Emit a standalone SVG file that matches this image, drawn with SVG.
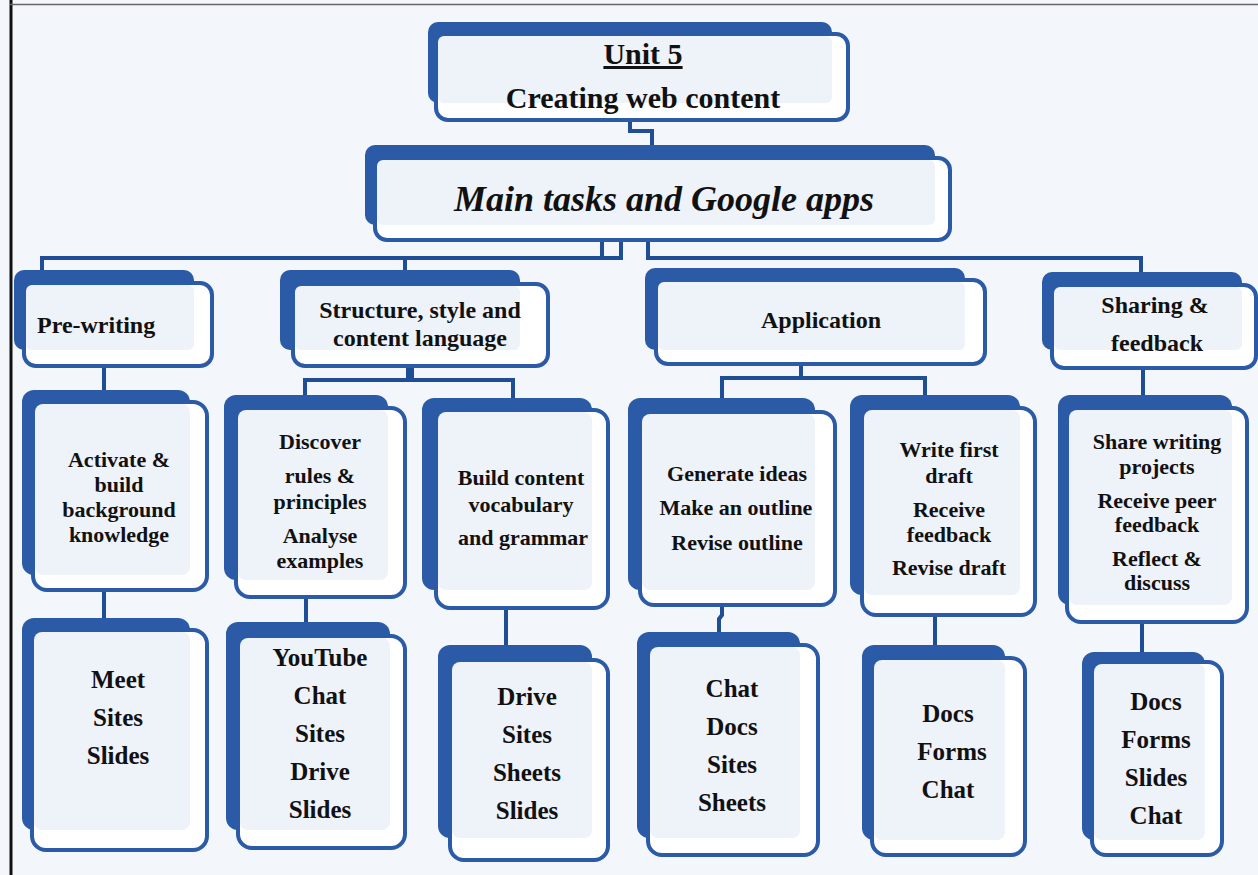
<svg xmlns="http://www.w3.org/2000/svg" width="1258" height="875" viewBox="0 0 1258 875">
<style>
.back{fill:#2b5aa7}
.front{fill:#ffffff;stroke:#2b5aa7;stroke-width:4}
.inner{fill:#eef2f9}
.t{font-family:"Liberation Serif","Times New Roman",serif;font-weight:bold;fill:#111;text-anchor:middle}
.h2{font-size:24px}
.h3{font-size:22px}
.h4{font-size:25px}
.con{fill:none;stroke:#1f4d96;stroke-width:4}
</style>
<rect x="0" y="0" width="1258" height="875" fill="#f3f7fc"/>
<line x1="11" y1="0" x2="11" y2="875" stroke="#111" stroke-width="3"/>
<line x1="10" y1="4.5" x2="1258" y2="4.5" stroke="#666" stroke-width="1.5"/>

<g id="connectors">
<path class="con" d="M630,120 V131 H652 V145"/>
<path class="con" d="M602,240 V258 M621,240 V258 M40,258 H623 M648,240 V258 H1141 V274 M42,256 V272 M405,258 V272"/>
<path class="con" d="M104,366 V392"/>
<path class="con" d="M408,366 V380 M412,366 V380 M305,398 V380 H513 V400"/>
<path class="con" d="M801,364 V378 M722,400 V378 H925 V397"/>
<path class="con" d="M1143,368 V397"/>
<path class="con" d="M104,590 V620 M306,597 V624 M506,608 V647 M722,605 V615 L719,619 V634 M935,615 V647 M1142,622 V654"/>
</g>

<g id="n-unit5">
<rect class="back" x="428" y="22" width="404" height="81" rx="10"/>
<rect class="front" x="436" y="34" width="412" height="86" rx="12"/>
<rect class="inner" x="438" y="36" width="394" height="67" rx="6"/>
<text class="t" x="643" y="64" font-size="30" text-decoration="underline">Unit 5</text>
<text class="t" x="643" y="108" font-size="30">Creating web content</text>
</g>

<g id="n-main">
<rect class="back" x="365" y="145" width="570" height="80" rx="10"/>
<rect class="front" x="375" y="158" width="575" height="82" rx="12"/>
<rect class="inner" x="377" y="160" width="558" height="65" rx="6"/>
<text class="t" x="664" y="211" font-size="36" font-style="italic">Main tasks and Google apps</text>
</g>

<g id="n-prewriting">
<rect class="back" x="14" y="270" width="180" height="80" rx="10"/>
<rect class="front" x="24" y="283" width="188" height="83" rx="12"/>
<rect class="inner" x="26" y="285" width="168" height="65" rx="6"/>
<text class="t h2" x="37" y="333" style="text-anchor:start">Pre-writing</text>
</g>

<g id="n-structure">
<rect class="back" x="280" y="270" width="240" height="80" rx="10"/>
<rect class="front" x="293" y="284" width="255" height="82" rx="12"/>
<rect class="inner" x="295" y="286" width="225" height="64" rx="6"/>
<text class="t h2" x="420" y="318">Structure, style and</text>
<text class="t h2" x="420" y="346">content language</text>
</g>

<g id="n-application">
<rect class="back" x="645" y="268" width="320" height="82" rx="10"/>
<rect class="front" x="656" y="280" width="329" height="84" rx="12"/>
<rect class="inner" x="658" y="282" width="307" height="68" rx="6"/>
<text class="t h2" x="821" y="328">Application</text>
</g>

<g id="n-sharing">
<rect class="back" x="1042" y="272" width="200" height="78" rx="10"/>
<rect class="front" x="1052" y="285" width="204" height="83" rx="12"/>
<rect class="inner" x="1054" y="287" width="188" height="63" rx="6"/>
<text class="t h2" x="1155" y="313">Sharing &amp;</text>
<text class="t h2" x="1157" y="351">feedback</text>
</g>

<g id="n-activate">
<rect class="back" x="22" y="390" width="168" height="185" rx="12"/>
<rect class="front" x="33" y="402" width="174" height="188" rx="14"/>
<rect class="inner" x="35" y="404" width="155" height="171" rx="8"/>
<text class="t h3" x="119" y="467">Activate &amp;</text>
<text class="t h3" x="119" y="492">build</text>
<text class="t h3" x="119" y="517">background</text>
<text class="t h3" x="119" y="542">knowledge</text>
</g>

<g id="n-discover">
<rect class="back" x="224" y="395" width="164" height="185" rx="12"/>
<rect class="front" x="236" y="408" width="169" height="189" rx="14"/>
<rect class="inner" x="238" y="410" width="150" height="170" rx="8"/>
<text class="t h3" x="320" y="449">Discover</text>
<text class="t h3" x="320" y="483">rules &amp;</text>
<text class="t h3" x="320" y="509">principles</text>
<text class="t h3" x="320" y="543">Analyse</text>
<text class="t h3" x="320" y="568">examples</text>
</g>

<g id="n-build">
<rect class="back" x="422" y="398" width="170" height="192" rx="12"/>
<rect class="front" x="436" y="410" width="172" height="198" rx="14"/>
<rect class="inner" x="438" y="412" width="154" height="178" rx="8"/>
<text class="t h3" x="521" y="485">Build content</text>
<text class="t h3" x="521" y="512">vocabulary</text>
<text class="t h3" x="523" y="545">and grammar</text>
</g>

<g id="n-generate">
<rect class="back" x="628" y="398" width="187" height="192" rx="12"/>
<rect class="front" x="640" y="412" width="195" height="193" rx="14"/>
<rect class="inner" x="642" y="414" width="173" height="176" rx="8"/>
<text class="t h3" x="737" y="481">Generate ideas</text>
<text class="t h3" x="736" y="515">Make an outline</text>
<text class="t h3" x="737" y="550">Revise outline</text>
</g>

<g id="n-write">
<rect class="back" x="850" y="395" width="170" height="200" rx="12"/>
<rect class="front" x="862" y="408" width="173" height="207" rx="14"/>
<rect class="inner" x="864" y="410" width="156" height="185" rx="8"/>
<text class="t h3" x="949" y="457">Write first</text>
<text class="t h3" x="949" y="483">draft</text>
<text class="t h3" x="949" y="517">Receive</text>
<text class="t h3" x="949" y="542">feedback</text>
<text class="t h3" x="949" y="575">Revise draft</text>
</g>

<g id="n-share">
<rect class="back" x="1058" y="395" width="174" height="210" rx="12"/>
<rect class="front" x="1067" y="408" width="180" height="214" rx="14"/>
<rect class="inner" x="1069" y="410" width="163" height="195" rx="8"/>
<text class="t h3" x="1157" y="449">Share writing</text>
<text class="t h3" x="1157" y="474">projects</text>
<text class="t h3" x="1157" y="508">Receive peer</text>
<text class="t h3" x="1157" y="532">feedback</text>
<text class="t h3" x="1157" y="566">Reflect &amp;</text>
<text class="t h3" x="1157" y="590">discuss</text>
</g>

<g id="n-meet">
<rect class="back" x="22" y="618" width="168" height="212" rx="12"/>
<rect class="front" x="32" y="630" width="175" height="220" rx="14"/>
<rect class="inner" x="34" y="632" width="156" height="198" rx="8"/>
<text class="t h4" x="118" y="688">Meet</text>
<text class="t h4" x="118" y="726">Sites</text>
<text class="t h4" x="118" y="764">Slides</text>
</g>

<g id="n-youtube">
<rect class="back" x="226" y="622" width="164" height="208" rx="12"/>
<rect class="front" x="238" y="636" width="167" height="212" rx="14"/>
<rect class="inner" x="240" y="638" width="150" height="192" rx="8"/>
<text class="t h4" x="320" y="666">YouTube</text>
<text class="t h4" x="320" y="704">Chat</text>
<text class="t h4" x="320" y="742">Sites</text>
<text class="t h4" x="320" y="780">Drive</text>
<text class="t h4" x="320" y="818">Slides</text>
</g>

<g id="n-drive">
<rect class="back" x="438" y="645" width="154" height="193" rx="12"/>
<rect class="front" x="450" y="660" width="158" height="200" rx="14"/>
<rect class="inner" x="452" y="662" width="140" height="176" rx="8"/>
<text class="t h4" x="527" y="705">Drive</text>
<text class="t h4" x="527" y="743">Sites</text>
<text class="t h4" x="527" y="781">Sheets</text>
<text class="t h4" x="527" y="819">Slides</text>
</g>

<g id="n-chatdocs">
<rect class="back" x="637" y="632" width="163" height="206" rx="12"/>
<rect class="front" x="648" y="645" width="170" height="210" rx="14"/>
<rect class="inner" x="650" y="647" width="150" height="191" rx="8"/>
<text class="t h4" x="732" y="697">Chat</text>
<text class="t h4" x="732" y="735">Docs</text>
<text class="t h4" x="732" y="773">Sites</text>
<text class="t h4" x="732" y="811">Sheets</text>
</g>

<g id="n-docsforms">
<rect class="back" x="862" y="645" width="143" height="195" rx="12"/>
<rect class="front" x="872" y="658" width="153" height="197" rx="14"/>
<rect class="inner" x="874" y="660" width="131" height="180" rx="8"/>
<text class="t h4" x="948" y="722">Docs</text>
<text class="t h4" x="952" y="760">Forms</text>
<text class="t h4" x="948" y="798">Chat</text>
</g>

<g id="n-docsformsslides">
<rect class="back" x="1082" y="652" width="123" height="188" rx="12"/>
<rect class="front" x="1092" y="662" width="130" height="193" rx="14"/>
<rect class="inner" x="1094" y="664" width="111" height="176" rx="8"/>
<text class="t h4" x="1156" y="710">Docs</text>
<text class="t h4" x="1156" y="748">Forms</text>
<text class="t h4" x="1156" y="786">Slides</text>
<text class="t h4" x="1156" y="824">Chat</text>
</g>
</svg>
